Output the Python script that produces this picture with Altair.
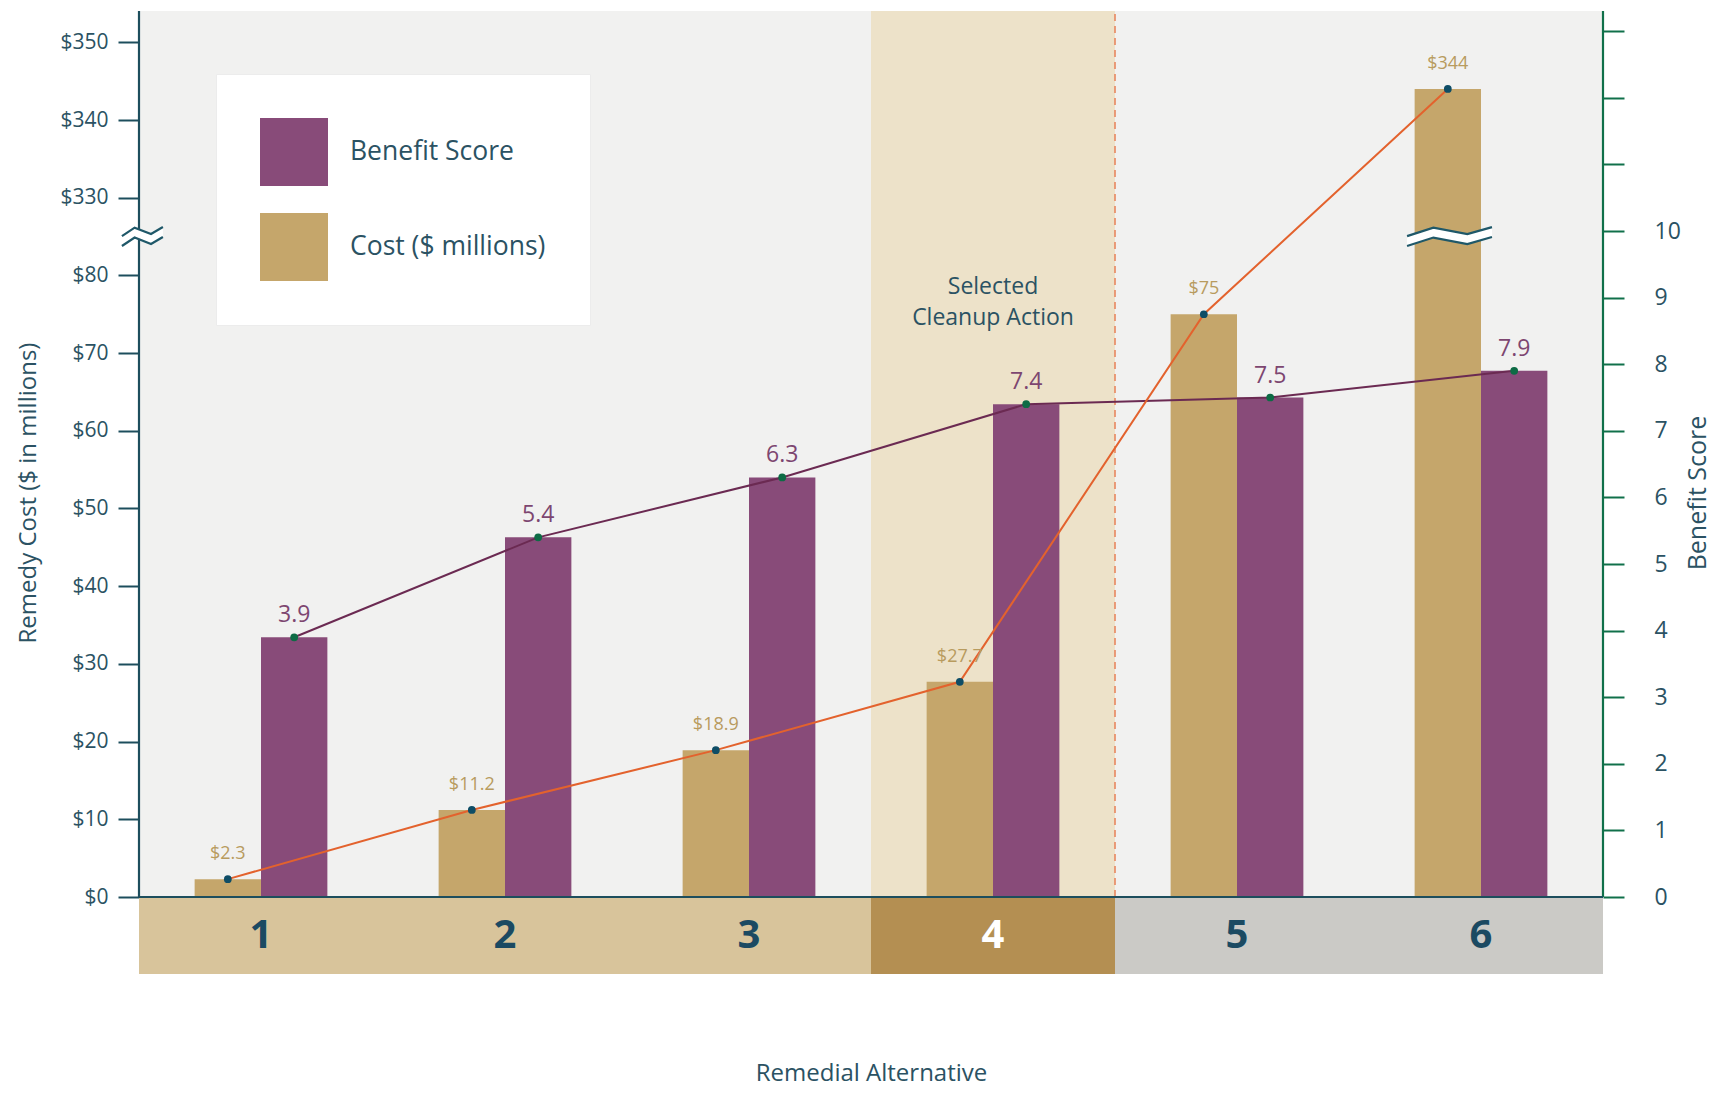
import altair as alt
import pandas as pd

# ---------------- data ----------------
alternatives = [1, 2, 3, 4, 5, 6]
cost_millions = [2.3, 11.2, 18.9, 27.7, 75, 344]
cost_text = ["$2.3", "$11.2", "$18.9", "$27.7", "$75", "$344"]
benefit_score = [3.9, 5.4, 6.3, 7.4, 7.5, 7.9]
benefit_text = ["3.9", "5.4", "6.3", "7.4", "7.5", "7.9"]
strip_fill = ["#d8c49b", "#d8c49b", "#d8c49b", "#b48f52", "#cbcac6", "#cbcac6"]
strip_label_color = ["#1b4a62", "#1b4a62", "#1b4a62", "#ffffff", "#1b4a62", "#1b4a62"]
selected_alt = 4
selected_lines = ["Selected", "Cleanup Action"]
left_tick_values = [0, 10, 20, 30, 40, 50, 60, 70, 80, 90, 100, 110]
right_tick_values = list(range(0, 14))
series_names = ["Benefit Score", "Cost ($ millions)"]

# broken cost axis: values above 330 are shifted down so $330 sits 10 units above $80
BREAK_LOW = 80
BREAK_HIGH = 330
SHIFT = BREAK_HIGH - (BREAK_LOW + 10)

# ---------------- layout constants ----------------
W = 1464
H = 963
STRIP = 77
PX_L = 7.77
PX_R = 66.6
LMIN = -STRIP / PX_L
LMAX = (H - STRIP) / PX_L
RMIN = -STRIP / PX_R
RMAX = (H - STRIP) / PX_R
BW = 0.272

PURPLE = "#884b79"
TAN = "#c5a66b"
ORANGE = "#e3622d"
BLINE = "#6b2a52"
DOT_C = "#0e4d66"
DOT_B = "#0d6b45"
TEAL = "#1d4e5d"
GREEN = "#10704a"
TXT = "#2b5263"

df = pd.DataFrame({
    "alt": alternatives,
    "cost": cost_millions,
    "cost_label": cost_text,
    "benefit": benefit_score,
    "benefit_label": benefit_text,
})
df["center"] = df["alt"] - 0.5
df["c_x0"] = df["center"] - BW
df["c_x1"] = df["center"]
df["c_xc"] = df["center"] - BW / 2
df["b_x0"] = df["center"]
df["b_x1"] = df["center"] + BW
df["b_xc"] = df["center"] + BW / 2
df["cost_plot"] = [c - SHIFT if c > BREAK_LOW else c for c in cost_millions]
df["c_series"] = series_names[1]
df["b_series"] = series_names[0]

strip = pd.DataFrame({
    "alt": alternatives,
    "label": [str(a) for a in alternatives],
    "fill": strip_fill,
    "tcol": strip_label_color,
})
strip["x0"] = strip["alt"] - 1
strip["x1"] = strip["alt"]
strip["xc"] = strip["alt"] - 0.5

hl = pd.DataFrame({"x0": [selected_alt - 1], "x1": [selected_alt]})
sel = pd.DataFrame({"t": selected_lines, "xc": [selected_alt - 0.5] * 2, "y": [78.5, 74.5]})

# break symbols (left axis and tall bar)
BREAK_Y = 85.0
shape_frac = [0.0, 0.31, 0.71, 1.0]
shape_off = [-0.58, 0.51, -0.32, 0.58]
GAP = 0.64
rows = []
for grp, (xa, xb) in {"axis": (-0.07, 0.098), "bar": (5.197, 5.545)}.items():
    for f, o in zip(shape_frac, shape_off):
        rows.append({"grp": grp, "x": xa + f * (xb - xa), "y_up": BREAK_Y + o + GAP, "y_lo": BREAK_Y + o - GAP})
brk = pd.DataFrame(rows)

# ---------------- scales / axes ----------------
XS = alt.Scale(domain=[0, 6], nice=False, zero=False)
YL = alt.Scale(domain=[LMIN, LMAX], nice=False, zero=False)
YR = alt.Scale(domain=[RMIN, RMAX], nice=False, zero=False)
CS = alt.Scale(domain=series_names, range=[PURPLE, TAN])

XAXIS = alt.Axis(title="Remedial Alternative", labels=False, ticks=False, domain=False, grid=False,
                 titleFontSize=24, titleColor=TXT, titleFontWeight="normal", titlePadding=87,
                 titleFont="Open Sans")
LAXIS = alt.Axis(orient="left", values=left_tick_values,
                 labelExpr="datum.value > 80 ? '$' + (datum.value + 240) : '$' + datum.value",
                 domain=False, grid=False, tickSize=21, tickWidth=2, tickColor=TEAL,
                 labelPadding=10, labelFontSize=21, labelColor=TXT, labelFont="Open Sans",
                 title="Remedy Cost ($ in millions)", titleFontSize=24, titleFontWeight="normal",
                 titleColor=TXT, titlePadding=19, titleFont="Open Sans")
RAXIS = alt.Axis(orient="right", values=right_tick_values,
                 labelExpr="datum.value <= 10 ? datum.value : ''",
                 domain=False, grid=False, tickSize=21, tickWidth=2, tickColor=GREEN,
                 labelPadding=30, labelFontSize=23, labelColor=TXT, labelFont="Open Sans",
                 title="Benefit Score", titleFontSize=25, titleFontWeight="normal", titleAngle=270,
                 titleColor=TXT, titlePadding=30, titleFont="Open Sans")
LEG = alt.Legend(title=None, orient="none", legendX=77, legendY=63, padding=44,
                 fillColor="white", strokeColor="#ececec", symbolType="square",
                 symbolSize=4624, symbolStrokeWidth=0, symbolOpacity=1,
                 labelFontSize=26.5, labelColor=TXT, labelFont="Open Sans", labelOffset=22,
                 rowPadding=27, labelLimit=400)


# every encoding of one scale group carries the same axis definition so they merge cleanly
def xq(field):
    return alt.X(field, type="quantitative", scale=XS, axis=XAXIS)


def xd(v):
    return alt.XDatum(v, type="quantitative", scale=XS, axis=XAXIS)


def yl(field):
    return alt.Y(field, type="quantitative", scale=YL, axis=LAXIS)


def yld(v):
    return alt.YDatum(v, type="quantitative", scale=YL, axis=LAXIS)


def yr(field):
    return alt.Y(field, type="quantitative", scale=YR, axis=RAXIS)


def yl2(field):
    # front cost group: same scale, axis drawn only once (by the back group)
    return alt.Y(field, type="quantitative", scale=YL, axis=None)


def yld2(v):
    return alt.YDatum(v, type="quantitative", scale=YL, axis=None)


# ---------------- left (cost) group, behind ----------------
strip_rect = alt.Chart(strip).mark_rect().encode(
    x=xq("x0"), x2="x1", y=yld(LMIN), y2=alt.Y2Datum(0),
    color=alt.Color("fill:N", scale=None))
strip_lbl = alt.Chart(strip).mark_text(fontSize=40, fontWeight="bold", baseline="middle",
                                        font="Open Sans").encode(
    x=xq("xc"), y=yld(LMIN / 2), text="label:N", color=alt.Color("tcol:N", scale=None))
highlight = alt.Chart(hl).mark_rect(color="#ede2c9").encode(
    x=xq("x0"), x2="x1", y=yld(0), y2=alt.Y2Datum(LMAX))
dash = alt.Chart(hl).mark_rule(color="#e8875f", strokeDash=[7, 5], strokeWidth=1.6).encode(
    x=xq("x1"), y=yld(0), y2=alt.Y2Datum(LMAX))
sel_text = alt.Chart(sel).mark_text(fontSize=23, color=TXT, baseline="middle",
                                    font="Open Sans").encode(
    x=xq("xc"), y=yl("y"), text="t:N")
axis_left = alt.Chart(hl).mark_rule(color=TEAL, strokeWidth=2.2).encode(
    x=xd(0), y=yld(0), y2=alt.Y2Datum(LMAX))
axis_right = alt.Chart(hl).mark_rule(color=GREEN, strokeWidth=2.2).encode(
    x=xd(6), y=yld(0), y2=alt.Y2Datum(LMAX))
cost_bars = alt.Chart(df).mark_rect().encode(
    x=xq("c_x0"), x2="c_x1",
    y=yl("cost_plot"), y2=alt.Y2Datum(0),
    color=alt.Color("c_series:N", scale=CS, legend=LEG))

left1 = alt.layer(highlight, dash, strip_rect, strip_lbl, sel_text, axis_left, axis_right, cost_bars)

# ---------------- right (benefit) group ----------------
ben_bars = alt.Chart(df).mark_rect().encode(
    x=xq("b_x0"), x2="b_x1",
    y=yr("benefit"), y2=alt.Y2Datum(0),
    color=alt.Color("b_series:N", scale=CS, legend=LEG))
ben_line = alt.Chart(df).mark_line(color=BLINE, strokeWidth=2).encode(x=xq("b_xc"), y=yr("benefit"))
ben_pts = alt.Chart(df).mark_circle(size=60, color=DOT_B, opacity=1).encode(x=xq("b_xc"), y=yr("benefit"))
ben_lbl = alt.Chart(df).mark_text(dy=-22, fontSize=23, color="#7d4670", baseline="middle",
                                  font="Open Sans").encode(
    x=xq("b_xc"), y=yr("benefit"), text="benefit_label:N")
right = alt.layer(ben_bars, ben_line, ben_pts, ben_lbl)

# ---------------- left (cost) group, front ----------------
baseline = alt.Chart(hl).mark_rule(color=TEAL, strokeWidth=2.2).encode(
    x=xd(0), x2=alt.X2Datum(6), y=yld2(0))
cost_line = alt.Chart(df).mark_line(color=ORANGE, strokeWidth=2).encode(x=xq("c_xc"), y=yl2("cost_plot"))
cost_pts = alt.Chart(df).mark_circle(size=60, color=DOT_C, opacity=1).encode(x=xq("c_xc"), y=yl2("cost_plot"))
cost_lbl = alt.Chart(df).mark_text(dy=-25, fontSize=18, color="#b89b5e", baseline="middle",
                                   font="Open Sans").encode(
    x=xq("c_xc"), y=yl2("cost_plot"), text="cost_label:N")
brk_area = alt.Chart(brk).mark_area(color="white", opacity=1).encode(
    x=xq("x"), y=yl2("y_lo"), y2="y_up", detail="grp:N")
brk_up = alt.Chart(brk).mark_line(color="#1f5869", strokeWidth=2.2).encode(
    x=xq("x"), y=yl2("y_up"), detail="grp:N")
brk_lo = alt.Chart(brk).mark_line(color="#1f5869", strokeWidth=2.2).encode(
    x=xq("x"), y=yl2("y_lo"), detail="grp:N")
left2 = alt.layer(baseline, cost_line, cost_pts, cost_lbl, brk_area, brk_up, brk_lo)

chart = alt.layer(left1, right, left2).resolve_scale(y="independent").properties(
    width=W, height=H,
    autosize=alt.AutoSizeParams(type="none"),
    padding={"left": 131, "top": 3, "right": 110, "bottom": 116},
).configure(font="Open Sans").configure_view(fill="#f1f1f0", stroke=None)

chart.save("out.html", embed_options={"renderer": "svg", "actions": False})
